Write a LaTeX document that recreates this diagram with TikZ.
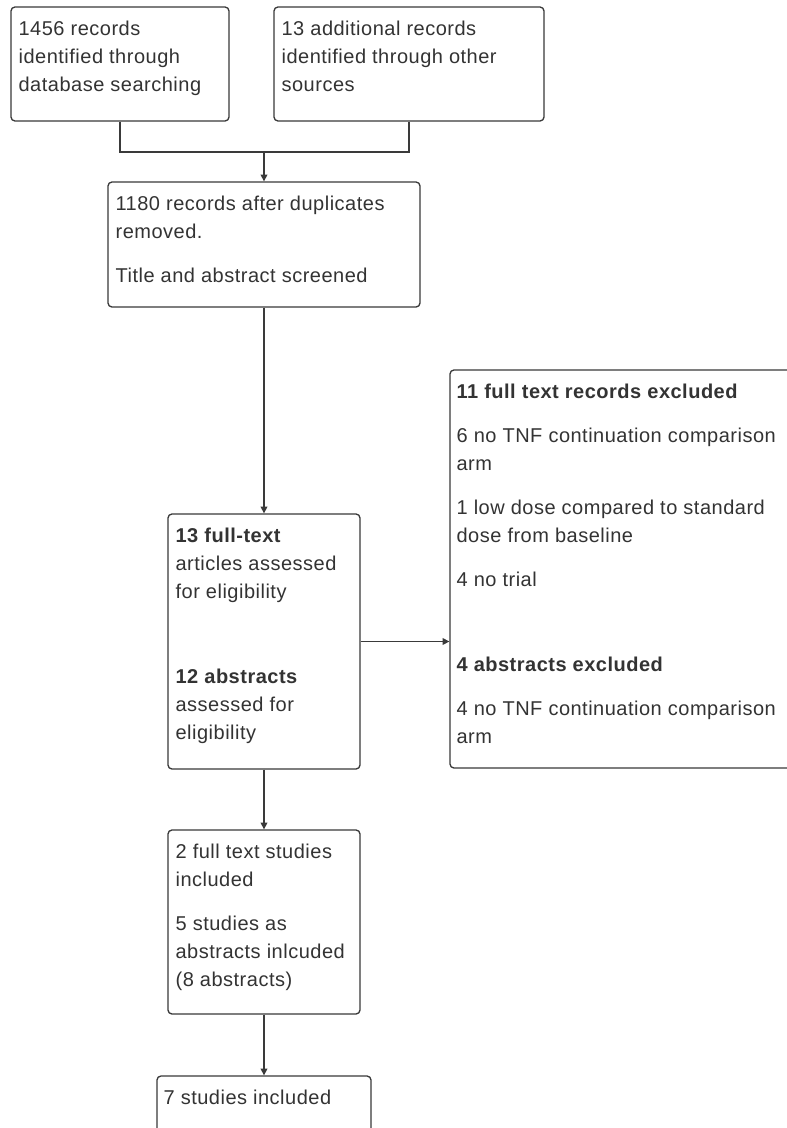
\documentclass[tikz,border=0pt]{standalone}
\usepackage{fontspec}
\setmainfont{Liberation Sans}[LetterSpace=2.5]
\usetikzlibrary{arrows.meta,fit}
\definecolor{ln}{HTML}{3A3A3A}
\definecolor{tx}{HTML}{333333}
\newcommand\fstrut{\rule{0pt}{11.25pt}}
\begin{document}
\begin{tikzpicture}[x=0.75pt,y=-0.75pt,
  boxst/.style={draw=ln, line width=1pt, rounded corners=3pt, inner sep=0pt},
  txt/.style={anchor=north west, inner sep=0pt, align=left, text=tx,
    font=\fontsize{15pt}{21pt}\selectfont},
  conn/.style={draw=ln, line width=1pt},
  arr/.style={conn, -{Triangle[length=5pt,width=5pt]}}]
\useasboundingbox (0,0) rectangle (787,1128);
\clip (0,0) rectangle (787,1128);
\fill[white] (0,0) rectangle (787,1128);

% boxes
\node[boxst, fit={(11,7) (229,121)}] (a) {};
\node[boxst, fit={(274,7) (544,121)}] (b) {};
\node[boxst, fit={(108,182) (420,307)}] (c) {};
\node[boxst, fit={(168,514) (360,769)}] (d) {};
\node[boxst, fit={(450,370) (800,768)}] (e) {};
\node[boxst, fit={(168,830) (360,1014)}] (f) {};
\node[boxst, fit={(157,1076) (371,1150)}] (g) {};

% texts
\node[txt] (ta) at ([shift={(8,14)}]a.north west)
  {\fstrut 1456 records\\ identified through\\ database searching};
\node[txt] (tb) at ([shift={(8,14)}]b.north west)
  {\fstrut 13 additional records\\ identified through other\\ sources};
\node[txt] (tc) at ([shift={(8,14)}]c.north west)
  {\fstrut 1180 records after duplicates\\ removed.\\[12pt] Title and abstract screened};
\node[txt] (td) at ([shift={(8,14)}]d.north west)
  {\fstrut\textbf{13 full-text}\\ articles assessed\\ for eligibility\\[43pt]
   \textbf{12 abstracts}\\ assessed for\\ eligibility};
\node[txt] (te) at ([shift={(7,14)}]e.north west)
  {\fstrut\textbf{11 full text records excluded}\\[12pt]
   6 no TNF continuation comparison\\ arm\\[12pt]
   1 low dose compared to standard\\ dose from baseline\\[12pt]
   4 no trial\\[43pt]
   \textbf{4 abstracts excluded}\\[12pt]
   4 no TNF continuation comparison\\ arm};
\node[txt] (tf) at ([shift={(8,14)}]f.north west)
  {\fstrut 2 full text studies\\ included\\[12pt] 5 studies as\\ abstracts inlcuded\\ (8 abstracts)};
\node[txt] (tg) at ([shift={(7,14)}]g.north west)
  {\fstrut 7 studies included};

% connectors
\coordinate (m) at (264,152);
\draw[conn] (a.south) |- (m);
\draw[conn] (b.south) |- (m);
\draw[arr] (m) -- (m |- c.north);
\draw[arr] (c.south) -- (d.north);
\draw[arr] (d.east) -- (d.east -| e.west);
\draw[arr] (d.south) -- (f.north);
\draw[arr] (f.south) -- (g.north);
\end{tikzpicture}
\end{document}
